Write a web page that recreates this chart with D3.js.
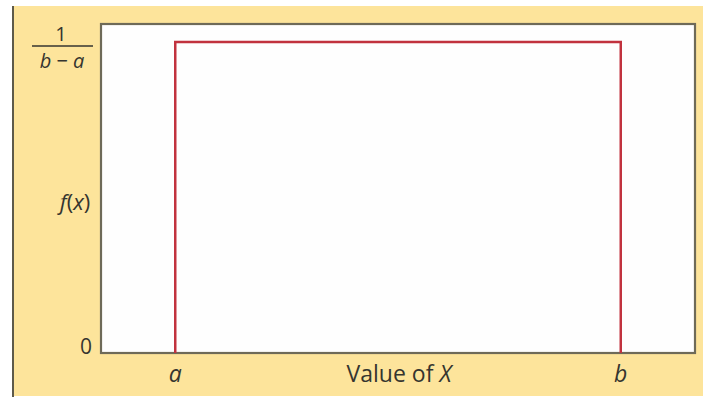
<!DOCTYPE html>
<html>
<head>
<meta charset="utf-8">
<script src="https://cdn.jsdelivr.net/npm/d3@7"></script>
<style>
  body { margin: 0; background: #fff; }
  text { font-family: "Open Sans", "Noto Sans", sans-serif; fill: #35352f; }
</style>
</head>
<body>
<div id="chart"></div>
<script>
// uniform distribution: X between a and b, density 1/(b-a)
const xDomain = [0, 8];
const xTickValues = [1, 7];
const xTickLabels = ["a", "b"];
const densityValue = 1 / (xTickValues[1] - xTickValues[0]);
const yDomain = [0, 0.1763];
const densityPoints = [
  [1, 0],
  [1, densityValue],
  [7, densityValue],
  [7, 0]
];

const width = 703, height = 399;
const plot = { left: 101, top: 24, right: 695, bottom: 353 };

const svg = d3.select("#chart").append("svg")
  .attr("width", width)
  .attr("height", height);

// yellow panel
svg.append("rect")
  .attr("x", 12).attr("y", 6)
  .attr("width", width - 12).attr("height", 390)
  .attr("fill", "#fde49b");
svg.append("line")
  .attr("x1", 13).attr("x2", 13)
  .attr("y1", 6).attr("y2", 397)
  .attr("stroke", "#5e5a4a").attr("stroke-width", 2);

const x = d3.scaleLinear().domain(xDomain).range([plot.left, plot.right]);
const y = d3.scaleLinear().domain(yDomain).range([plot.bottom, plot.top]);

// white plot area with dark frame
svg.append("rect")
  .attr("x", plot.left).attr("y", plot.top)
  .attr("width", plot.right - plot.left)
  .attr("height", plot.bottom - plot.top)
  .attr("fill", "#fefefe")
  .attr("stroke", "#6e6a58")
  .attr("stroke-width", 2.2);

// density line
svg.append("path")
  .datum(densityPoints)
  .attr("d", d3.line().x(d => x(d[0])).y(d => y(d[1])))
  .attr("fill", "none")
  .attr("stroke", "#c1323e")
  .attr("stroke-width", 2.5);

// x tick labels
svg.selectAll("text.xtick")
  .data(xTickValues)
  .enter()
  .append("text")
  .attr("class", "xtick")
  .attr("x", d => x(d))
  .attr("y", 382)
  .attr("text-anchor", "middle")
  .attr("font-size", "23px")
  .attr("font-style", "italic")
  .text((d, i) => xTickLabels[i]);

// x axis title
const xTitle = svg.append("text")
  .attr("x", 399)
  .attr("y", 382)
  .attr("text-anchor", "middle")
  .attr("font-size", "23px");
xTitle.append("tspan").text("Value of ");
xTitle.append("tspan").attr("font-style", "italic").text("X");

// y ticks: 0 and 1/(b-a)
svg.append("text")
  .attr("x", 86)
  .attr("y", y(0) + 1)
  .attr("text-anchor", "middle")
  .attr("font-size", "21px")
  .text("0");

const fy = y(densityValue);
svg.append("text")
  .attr("x", 61)
  .attr("y", fy - 1)
  .attr("text-anchor", "middle")
  .attr("font-size", "20px")
  .text("1");
svg.append("line")
  .attr("x1", 32).attr("x2", 93)
  .attr("y1", fy + 4).attr("y2", fy + 4)
  .attr("stroke", "#35352f").attr("stroke-width", 1.6);
const denom = svg.append("text")
  .attr("x", 62)
  .attr("y", fy + 26)
  .attr("text-anchor", "middle")
  .attr("font-size", "20px");
denom.append("tspan").attr("font-style", "italic").text("b");
denom.append("tspan").text(" \u2212 ");
denom.append("tspan").attr("font-style", "italic").text("a");

// y axis title f(x)
const yTitle = svg.append("text")
  .attr("x", 75)
  .attr("y", 210)
  .attr("text-anchor", "middle")
  .attr("font-size", "22px");
yTitle.append("tspan").attr("font-style", "italic").text("f");
yTitle.append("tspan").text("(");
yTitle.append("tspan").attr("font-style", "italic").text("x");
yTitle.append("tspan").text(")");
</script>
</body>
</html>
